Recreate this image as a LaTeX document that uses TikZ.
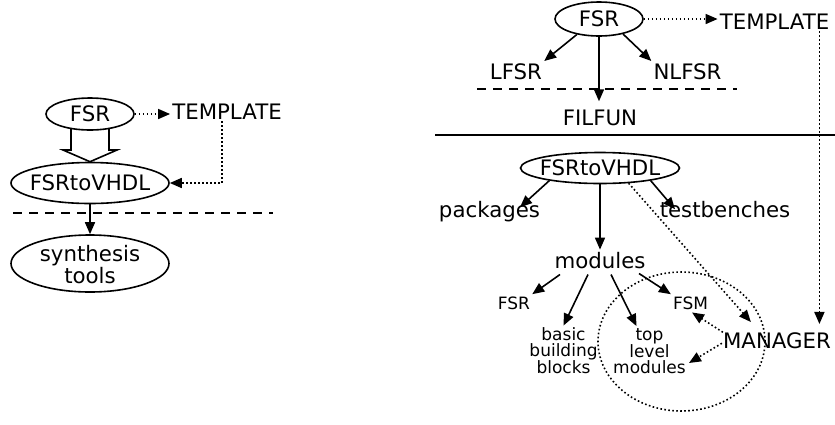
\documentclass[tikz,border=0pt]{standalone}
\usepackage{fontspec}
\setmainfont{DejaVu Sans}
\usetikzlibrary{arrows.meta,shapes.geometric,calc}

\begin{document}
\begin{tikzpicture}[x=1pt,y=-1pt,
  big/.style={font=\fontsize{21.3}{21}\selectfont},
  small/.style={font=\fontsize{17}{15.8}\selectfont},
  oval/.style={ellipse, draw, line width=1.6pt, inner sep=0pt, big},
  lbl/.style={inner sep=2pt, anchor=base, big},
  slbl/.style={inner sep=2pt, anchor=base, small},
  conn/.style={line width=1.6pt, -{Triangle[length=12pt,width=10pt]}},
  dotconn/.style={conn, dash pattern=on 1.6pt off 2.4pt},
  dotline/.style={line width=1.6pt, dash pattern=on 1.6pt off 2.4pt},
  dashline/.style={line width=1.6pt, dash pattern=on 9pt off 7pt},
  hollow/.style={line width=1.6pt, line join=miter},
]
\useasboundingbox (0,0) rectangle (835,424);

% ---------- left: the generator flow ----------
\node[oval, minimum width=88, minimum height=32] (fsrL) at (90,114) {FSR};
\node[lbl] (tmplL) at (227,119) {TEMPLATE};
\node[oval, minimum width=158, minimum height=41] (fsvL) at (90,183) {\makebox[0pt]{FSRtoVHDL}};
\node[oval, minimum width=158, minimum height=57] (synL) at (90,263.5)
  {\makebox[0pt]{\raisebox{-9pt}[15pt][15pt]{\begin{tabular}{@{}c@{}}synthesis\\tools\end{tabular}}}};

\draw[dotconn] (fsrL.east) -- (fsrL.east -| tmplL.west);
\coordinate (tvL) at ($(tmplL.south)+(-5,0)$);
\draw[dotconn] (tvL) |- (fsvL.east);

% broad hollow arrow from FSR down to FSRtoVHDL
\draw[hollow] ($(fsrL.center)+(-19,14.4)$) -- ($(fsrL.center)+(-19,36)$)
  -- ($(fsrL.center)+(-27,36)$) -- (fsvL.north) -- ($(fsrL.center)+(27,36)$)
  -- ($(fsrL.center)+(19,36)$) -- ($(fsrL.center)+(19,14.4)$);

\coordinate (dashLa) at (13,213);
\coordinate (dashLb) at (273,213);
\draw[dashline] (dashLa) -- (dashLb);
\draw[conn] (fsvL.south) -- (synL.north);

% ---------- right: the class structure ----------
\node[oval, minimum width=88, minimum height=34] (fsrR) at (599,19) {FSR};
\node[lbl] (tmplR) at (774.5,29) {TEMPLATE};
\node[lbl] (lfsr) at (516,79) {LFSR};
\node[lbl] (nlfsr) at (687.5,79) {NLFSR};
\node[lbl] (filfun) at (600,125) {FILFUN};
\node[oval, minimum width=159, minimum height=31] (fsvR) at (600,168) {\makebox[0pt]{FSRtoVHDL}};
\node[lbl] (pkg) at (489.5,217) {packages};
\node[lbl] (tb) at (725,217) {testbenches};
\node[lbl] (mods) at (600,268) {modules};
\node[slbl] (fsr2) at (514,309) {FSR};
\node[slbl] (fsm) at (690.5,309) {FSM};
\node[small, align=center, inner sep=2pt] (basic) at (563.5,351) {basic\\building\\blocks};
\node[small, align=center, inner sep=2pt] (toplvl) at (649.5,351) {top\\level\\modules};
\node[lbl] (mgr) at (777,348) {MANAGER};
\node[ellipse, draw, dotline, minimum width=167, minimum height=139, inner sep=0pt] (grp) at (681.5,341.5) {};

\draw[conn] (fsrR.-145) -- (lfsr.north east);
\draw[conn] (fsrR.-32) -- (nlfsr.north west);
\draw[conn, shorten >=6pt] (fsrR.south) -- (fsrR.south |- filfun.north);
\draw[dotconn] (fsrR.east) -- (fsrR.east -| tmplR.west);
\coordinate (tvR) at ($(tmplR.south east)+(-12,0)$);
\draw[dotconn] (tvR) -- ($(tvR |- mgr.north)+(0,-6)$);

\coordinate (dashRa) at (477,89);
\coordinate (dashRb) at (737,89);
\draw[dashline] (dashRa) -- (dashRb);
\coordinate (rulA) at (435,135);
\coordinate (rulB) at (835,135);
\draw[line width=1.6pt] (rulA) -- (rulB);

\draw[conn] (fsvR.-166) -- ($(pkg.north)+(30.5,8.6)$);
\draw[conn] (fsvR.-14) -- ($(tb.north)+(-50,10.6)$);
\draw[conn] (fsvR.south) -- (mods.north);
\draw[dotconn] (fsvR.-28) -- ($(mgr.north west)+(30,-8)$);

\draw[conn] ($(mods.south)+(-40,4)$) -- (fsr2.north east);
\draw[conn] ($(mods.south)+(-12,4)$) -- (basic.north);
\draw[conn] ($(mods.south)+(11,4)$) -- ($(toplvl.north)+(-13,0)$);
\draw[conn] ($(mods.south)+(39,3)$) -- (fsm.north west);

\draw[dotconn] ($(mgr.west)+(2,-8)$) -- ($(fsm.south)+(1.5,1)$);
\draw[dotconn] ($(mgr.west)+(1,3)$) -- ($(toplvl.east)+(1,12)$);
\end{tikzpicture}
\end{document}
